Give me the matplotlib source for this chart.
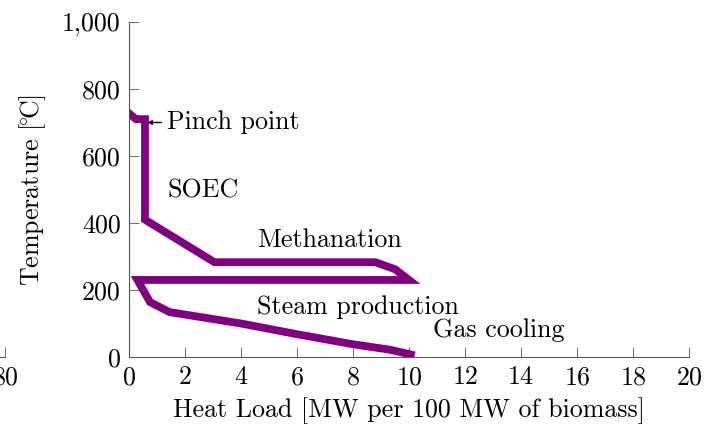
import matplotlib
matplotlib.use('Agg')
import matplotlib.pyplot as plt

plt.rcParams['font.family'] = ['cmr10', 'DejaVu Serif']
plt.rcParams['mathtext.fontset'] = 'cm'
plt.rcParams['axes.formatter.use_mathtext'] = True

# Composite curve: heat load [MW per 100 MW biomass] vs temperature [C]
heat_load = [-0.1, 0.25, 0.57, 0.57, 3.05, 8.8, 9.5, 10.0,
             0.3, 0.75, 1.45, 4.0, 6.0, 8.0, 9.3, 10.2]
temperature = [734, 710, 710, 410, 283, 283, 262, 230,
               230, 164, 134, 100, 68, 38, 22, 5]

x_ticks = list(range(0, 21, 2))
y_ticks = [0, 200, 400, 600, 800, 1000]
y_tick_labels = ['0', '200', '400', '600', '800', '1,000']

labels = ['SOEC', 'Methanation', 'Steam production', 'Gas cooling']
label_x = [1.36, 4.57, 4.57, 10.86]
label_y = [498, 349, 149, 80]

fs = 18.7

fig = plt.figure(figsize=(7.18, 4.34), dpi=100)
ax = fig.add_axes([129 / 718, 77 / 434, 560 / 718, 335 / 434])

ax.plot(heat_load, temperature, color='#800080', lw=5.6,
        solid_joinstyle='miter', solid_capstyle='butt')

ax.set_xlim(0, 20)
ax.set_ylim(0, 1000)
ax.set_xticks(x_ticks)
ax.set_yticks(y_ticks)
ax.set_yticklabels(y_tick_labels)
for s in ['top', 'right']:
    ax.spines[s].set_visible(False)
for s in ['left', 'bottom']:
    ax.spines[s].set_color('#555555')
    ax.spines[s].set_linewidth(0.8)
ax.tick_params(direction='in', length=7, width=0.6, color='#555555',
               labelsize=fs, pad=6)

ax.set_xlabel('Heat Load [MW per 100 MW of biomass]', fontsize=fs, labelpad=6)
ax.set_ylabel(r'Temperature [$\!^{\circ}\!$C]', fontsize=fs, labelpad=10)

for t, lx, ly in zip(labels, label_x, label_y):
    ax.text(lx, ly, t, fontsize=fs, va='center', ha='left')

ax.annotate('Pinch point', xy=(0.66, 700), xytext=(1.36, 700),
            fontsize=fs, va='center', ha='left',
            arrowprops=dict(arrowstyle='-|>', color='black', lw=1.0,
                            mutation_scale=6, shrinkA=2, shrinkB=0))

# edge of the neighbouring panel on the left
ax0 = fig.add_axes([-0.6, 77 / 434, 0.6 + 5 / 718, 335 / 434])
ax0.set_xlim(0, 80)
ax0.set_ylim(0, 1)
ax0.set_xticks([80])
ax0.set_yticks([])
for s in ['top', 'right', 'left']:
    ax0.spines[s].set_visible(False)
ax0.spines['bottom'].set_color('#555555')
ax0.spines['bottom'].set_linewidth(0.8)
ax0.tick_params(direction='in', length=7, width=0.6, color='#555555',
                labelsize=fs, pad=6)
ax0.patch.set_alpha(0)

fig.savefig('out.png', dpi=100)
